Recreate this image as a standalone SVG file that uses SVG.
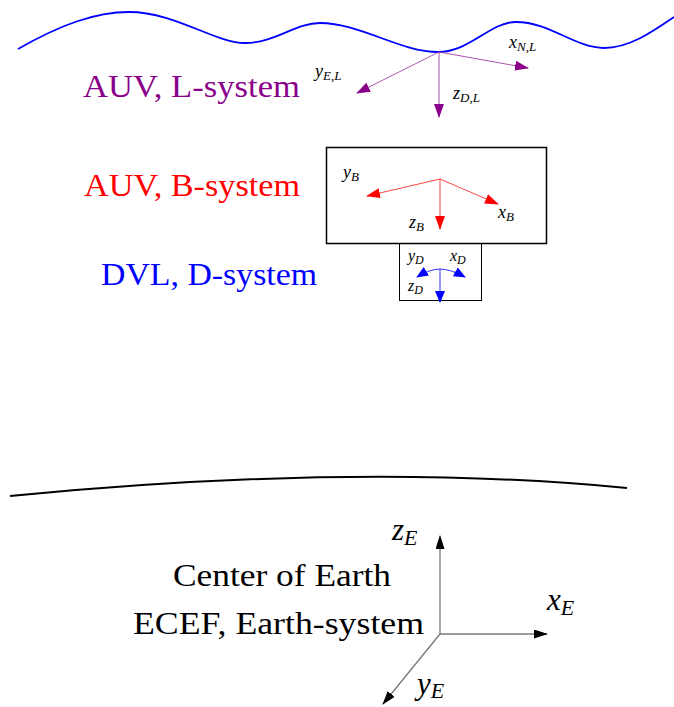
<svg xmlns="http://www.w3.org/2000/svg" width="674" height="707" viewBox="0 0 674 707">
<style>
.big{font-family:"Liberation Serif","DejaVu Serif",serif;font-size:31px}
.math{font-family:"Liberation Serif","DejaVu Serif",serif;font-style:italic}
.sm{font-size:18px}
.sub{font-size:13px}
.lg{font-size:31px}
.lsub{font-size:22px}
.up{font-style:normal}
</style>
<defs>
<marker id="aP" viewBox="0 0 14 10" refX="13" refY="5" markerWidth="14" markerHeight="10" markerUnits="userSpaceOnUse" orient="auto"><path d="M0 0 L14 5 L0 10 z" fill="#8b008b"/></marker>
<marker id="aR" viewBox="0 0 14 10" refX="13" refY="5" markerWidth="14" markerHeight="10" markerUnits="userSpaceOnUse" orient="auto"><path d="M0 0 L14 5 L0 10 z" fill="#ff0000"/></marker>
<marker id="aB" viewBox="0 0 12 10" refX="11" refY="5" markerWidth="12" markerHeight="10" markerUnits="userSpaceOnUse" orient="auto"><path d="M0 0 L12 5 L0 10 z" fill="#0000ff"/></marker>
<marker id="aK" viewBox="0 0 14 9" refX="13" refY="4.5" markerWidth="14" markerHeight="9" markerUnits="userSpaceOnUse" orient="auto"><path d="M0 0 L14 4.5 L0 9 z" fill="#000"/></marker>
</defs>
<rect width="674" height="707" fill="#fff"/>

<g id="sea-surface">
<path d="M18 49 C60 25 95 12 129 12 C175 12 215 43 245 43 C275 43 295 23 320 23 C360 23 400 52 438 52 C470 52 490 22 516 22 C550 22 575 48 604 48 C630 48 655 30 674 17" fill="none" stroke="#0000ff" stroke-width="1.8"/>
</g>

<g id="earth-surface">
<path d="M10 496 Q360 462 627 488" fill="none" stroke="#000" stroke-width="2"/>
</g>

<g id="auv-body">
<rect x="326.5" y="147.5" width="220" height="96" fill="none" stroke="#000" stroke-width="1.5"/>
</g>

<g id="dvl-body">
<rect x="399.5" y="243.5" width="82" height="57" fill="none" stroke="#000" stroke-width="1"/>
</g>

<g id="connectors">
<g stroke="#a040a0" stroke-width="0.9" fill="none">
<line x1="439" y1="52" x2="528" y2="68" marker-end="url(#aP)"/>
<line x1="439" y1="52" x2="357" y2="93" marker-end="url(#aP)"/>
<line x1="439" y1="52" x2="439" y2="117" marker-end="url(#aP)"/>
</g>
<g stroke="#ff3030" stroke-width="0.9" fill="none">
<line x1="440" y1="179" x2="367" y2="196" marker-end="url(#aR)"/>
<line x1="440" y1="179" x2="498" y2="204" marker-end="url(#aR)"/>
<line x1="440" y1="179" x2="440" y2="229" marker-end="url(#aR)"/>
</g>
<g stroke="#3030ff" stroke-width="1" fill="none">
<path d="M440 269 Q430 269 417 277" marker-end="url(#aB)"/>
<path d="M440 269 Q450 269 465 277" marker-end="url(#aB)"/>
<line x1="440" y1="269" x2="440" y2="302" marker-end="url(#aB)"/>
</g>
<g stroke="#777" stroke-width="1.3" fill="none">
<line x1="440" y1="634" x2="440" y2="536" marker-end="url(#aK)"/>
<line x1="440" y1="634" x2="547" y2="634" marker-end="url(#aK)"/>
<line x1="440" y1="634" x2="383" y2="704" marker-end="url(#aK)"/>
</g>
</g>

<g id="l-system">
<text class="big" x="83" y="97" fill="#8b008b" textLength="217" lengthAdjust="spacingAndGlyphs">AUV, L-system</text>
<text class="math sm" x="315" y="77" fill="#000">y<tspan class="sub" dy="3">E<tspan class="up">,</tspan>L</tspan></text>
<text class="math sm" x="509" y="48" fill="#000">x<tspan class="sub" dy="3">N<tspan class="up">,</tspan>L</tspan></text>
<text class="math sm" x="453" y="99" fill="#000">z<tspan class="sub" dy="3">D<tspan class="up">,</tspan>L</tspan></text>
</g>

<g id="b-system">
<text class="big" x="84" y="196" fill="#ff0000" textLength="216" lengthAdjust="spacingAndGlyphs">AUV, B-system</text>
<text class="math sm" x="343" y="178" fill="#000">y<tspan class="sub" dy="3">B</tspan></text>
<text class="math sm" x="498" y="218" fill="#000">x<tspan class="sub" dy="3">B</tspan></text>
<text class="math sm" x="409" y="228" fill="#000">z<tspan class="sub" dy="3">B</tspan></text>
</g>

<g id="d-system">
<text class="big" x="101" y="285" fill="#0000ff" textLength="216" lengthAdjust="spacingAndGlyphs">DVL, D-system</text>
<text class="math sm" x="408" y="261" fill="#000" style="font-size:16px">y<tspan class="sub" dy="3" style="font-size:12px">D</tspan></text>
<text class="math sm" x="450" y="261" fill="#000" style="font-size:16px">x<tspan class="sub" dy="3" style="font-size:12px">D</tspan></text>
<text class="math sm" x="408" y="291" fill="#000" style="font-size:16px">z<tspan class="sub" dy="3" style="font-size:12px">D</tspan></text>
</g>

<g id="earth-system">
<text class="big" x="173" y="586" fill="#000" textLength="218" lengthAdjust="spacingAndGlyphs">Center of Earth</text>
<text class="big" x="133" y="634" fill="#000" textLength="291" lengthAdjust="spacingAndGlyphs">ECEF, Earth-system</text>
<text class="math lg" x="392" y="540" fill="#000">z<tspan class="lsub" dy="5">E</tspan></text>
<text class="math lg" x="547" y="610" fill="#000">x<tspan class="lsub" dy="5">E</tspan></text>
<text class="math lg" x="417" y="694" fill="#000">y<tspan class="lsub" dy="4">E</tspan></text>
</g>
</svg>
